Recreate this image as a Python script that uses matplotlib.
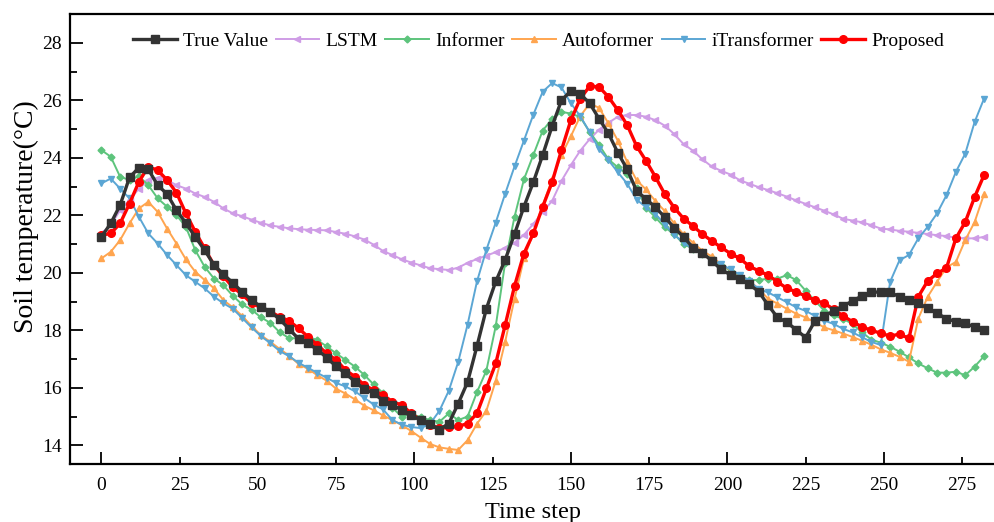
import numpy as np
import matplotlib.pyplot as plt
from matplotlib.ticker import MultipleLocator

plt.rcParams["font.family"] = ["Liberation Serif", "DejaVu Serif"]

# time steps (one marker every 3 steps)
steps = np.arange(0, 283, 3)

true_value = [
    21.25, 21.72, 22.36, 23.32, 23.66, 23.60, 23.05, 22.74, 22.18, 21.73,
    21.25, 20.79, 20.27, 19.95, 19.65, 19.34, 19.05, 18.82, 18.65, 18.38,
    18.05, 17.70, 17.55, 17.33, 17.05, 16.75, 16.50, 16.22, 15.95, 15.82,
    15.55, 15.40, 15.23, 15.05, 14.87, 14.74, 14.55, 14.76, 15.45, 16.20,
    17.45, 18.75, 19.70, 20.45, 21.35, 22.30, 23.15, 24.10, 25.10, 26.00,
    26.33, 26.22, 25.90, 25.36, 24.85, 24.18, 23.60, 22.85, 22.57, 22.28,
    21.94, 21.57, 21.25, 20.88, 20.70, 20.42, 20.12, 19.93, 19.77, 19.60,
    19.35, 18.88, 18.45, 18.28, 18.02, 17.75, 18.33, 18.50, 18.68, 18.85,
    19.02, 19.20, 19.32, 19.34, 19.32, 19.17, 19.05, 18.94, 18.77, 18.59,
    18.41, 18.30, 18.24, 18.12, 18.00,
]

lstm = [
    21.37, 21.66, 22.18, 22.53, 22.93, 23.23, 23.31, 23.23, 23.05, 22.93,
    22.76, 22.64, 22.47, 22.24, 22.07, 21.97, 21.85, 21.74, 21.65, 21.60,
    21.55, 21.52, 21.50, 21.49, 21.48, 21.42, 21.36, 21.27, 21.16, 20.98,
    20.76, 20.62, 20.47, 20.36, 20.26, 20.16, 20.13, 20.10, 20.18, 20.35,
    20.48, 20.60, 20.72, 20.88, 21.05, 21.32, 21.70, 22.12, 22.50, 23.20,
    23.75, 24.25, 24.65, 24.98, 25.22, 25.43, 25.49, 25.49, 25.43, 25.31,
    25.12, 24.83, 24.48, 24.25, 23.95, 23.70, 23.55, 23.42, 23.22, 23.10,
    22.98, 22.88, 22.77, 22.65, 22.52, 22.40, 22.28, 22.16, 22.03, 21.88,
    21.82, 21.76, 21.66, 21.54, 21.51, 21.46, 21.43, 21.39, 21.35, 21.31,
    21.28, 21.22, 21.20, 21.20, 21.25,
]

informer = [
    24.27, 24.04, 23.34, 23.23, 23.36, 23.05, 22.59, 22.30, 22.01, 21.60,
    20.79, 20.21, 19.80, 19.57, 19.20, 18.90, 18.72, 18.45, 18.26, 17.93,
    17.73, 17.72, 17.78, 17.66, 17.44, 17.20, 16.97, 16.74, 16.45, 16.12,
    15.82, 15.30, 15.00, 15.10, 14.98, 14.88, 14.82, 15.11, 14.88, 15.00,
    15.85, 16.60, 18.15, 20.35, 21.95, 23.25, 24.10, 24.95, 25.35, 25.60,
    25.54, 25.42, 24.90, 24.45, 23.95, 23.67, 23.43, 22.95, 22.27, 21.93,
    21.58, 21.35, 21.00, 20.84, 20.66, 20.50, 20.28, 20.07, 19.90, 19.75,
    19.75, 19.80, 19.80, 19.92, 19.75, 19.38, 19.03, 18.68, 18.52, 18.40,
    18.22, 17.93, 17.68, 17.57, 17.43, 17.26, 17.06, 16.85, 16.68, 16.53,
    16.53, 16.56, 16.44, 16.74, 17.10,
]

autoformer = [
    20.50, 20.73, 21.14, 21.72, 22.24, 22.47, 22.12, 21.54, 21.02, 20.47,
    20.04, 19.75, 19.46, 19.05, 18.80, 18.50, 18.15, 17.83, 17.60, 17.35,
    17.12, 16.83, 16.66, 16.44, 16.25, 15.97, 15.80, 15.60, 15.38, 15.22,
    15.04, 14.88, 14.70, 14.50, 14.27, 14.05, 13.93, 13.88, 13.84, 14.18,
    14.75, 15.20, 16.25, 17.60, 19.10, 20.50, 21.40, 22.35, 23.25, 24.10,
    24.75, 25.45, 25.89, 25.74, 25.20, 24.60, 23.85, 23.22, 22.90, 22.50,
    22.15, 21.72, 21.34, 21.05, 20.77, 20.57, 20.30, 20.10, 19.92, 19.72,
    19.45, 19.10, 18.93, 18.75, 18.58, 18.45, 18.28, 18.10, 18.00, 17.89,
    17.77, 17.64, 17.50, 17.34, 17.22, 17.08, 16.91, 18.41, 19.17, 19.69,
    20.19, 20.38, 21.14, 21.77, 22.74,
]

itransformer = [
    23.11, 23.28, 22.93, 22.59, 21.95, 21.37, 21.02, 20.62, 20.27, 19.92,
    19.69, 19.46, 19.17, 18.94, 18.75, 18.43, 18.10, 17.80, 17.55, 17.28,
    17.10, 16.87, 16.70, 16.52, 16.35, 16.17, 16.05, 15.88, 15.65, 15.42,
    15.25, 14.88, 14.72, 14.64, 14.60, 14.75, 15.20, 15.90, 16.90, 18.20,
    19.70, 20.80, 21.75, 22.75, 23.70, 24.60, 25.50, 26.30, 26.60, 26.45,
    25.90, 25.45, 24.90, 24.30, 23.92, 23.50, 23.10, 22.55, 22.28, 22.05,
    21.68, 21.33, 21.05, 20.83, 20.65, 20.45, 20.30, 20.12, 19.93, 19.72,
    19.43, 19.32, 19.15, 18.98, 18.80, 18.68, 18.50, 18.34, 18.22, 18.05,
    17.93, 17.76, 17.60, 17.49, 19.69, 20.44, 20.62, 21.20, 21.60, 22.07,
    22.70, 23.51, 24.15, 25.25, 26.06,
]

proposed = [
    21.31, 21.37, 21.72, 22.41, 23.17, 23.69, 23.57, 23.23, 22.79, 22.07,
    21.43, 20.85, 20.27, 19.88, 19.50, 19.25, 18.94, 18.80, 18.65, 18.47,
    18.33, 18.07, 17.78, 17.49, 17.20, 16.97, 16.62, 16.39, 16.10, 15.92,
    15.75, 15.52, 15.40, 15.11, 14.88, 14.71, 14.59, 14.63, 14.66, 14.76,
    15.11, 15.98, 16.85, 18.18, 19.54, 20.67, 21.37, 22.30, 23.15, 24.27,
    25.31, 26.06, 26.49, 26.47, 26.12, 25.66, 25.14, 24.41, 23.90, 23.34,
    22.74, 22.27, 21.89, 21.63, 21.35, 21.11, 20.89, 20.67, 20.50, 20.23,
    20.07, 19.92, 19.69, 19.46, 19.34, 19.19, 19.05, 18.94, 18.73, 18.50,
    18.30, 18.12, 18.00, 17.90, 17.80, 17.87, 17.72, 19.17, 19.72, 19.98,
    20.17, 21.20, 21.77, 22.64, 23.40,
]

fig = plt.figure(figsize=(9.95, 5.22), dpi=100)
ax = fig.add_axes([0.0704, 0.111, 0.9296, 0.862])

# baselines first, true value and proposed on top
ax.plot(steps, lstm, color="#CF9DE6", lw=1.4, marker="<", ms=4.5, label="LSTM", zorder=2)
ax.plot(steps, informer, color="#5DC47C", lw=1.4, marker="D", ms=3.5, label="Informer", zorder=2)
ax.plot(steps, autoformer, color="#FFA54F", lw=1.4, marker="^", ms=4.5, label="Autoformer", zorder=2)
ax.plot(steps, itransformer, color="#5BA6D4", lw=1.4, marker="v", ms=4.5, label="iTransformer", zorder=2)
ax.plot(steps, true_value, color="#333333", lw=2.4, marker="s", ms=6, label="True Value", zorder=4)
ax.plot(steps, proposed, color="#FF0000", lw=2.4, marker="o", ms=5.5, label="Proposed", zorder=3)

ax.set_xlim(-10, 285.5)
ax.set_ylim(13.35, 29.0)

ax.set_xticks(np.arange(0, 251, 50))
ax.set_xticks(np.arange(25, 276, 50), minor=True)
ax.set_xticklabels([str(v) for v in range(25, 276, 50)], minor=True)
ax.yaxis.set_minor_locator(MultipleLocator(1))
ax.set_yticks(np.arange(14, 29, 2))
ax.tick_params(which="both", direction="in", labelsize=14, width=1.3)
ax.tick_params(axis="y", which="both", pad=6)
ax.tick_params(axis="x", which="both", pad=9)
ax.tick_params(which="major", length=9)
ax.tick_params(which="minor", length=5)

for side in ("left", "bottom", "top"):
    ax.spines[side].set_linewidth(1.6)
ax.spines["right"].set_visible(False)

ax.set_xlabel("Time step", fontsize=17.5, labelpad=6)
ax.set_ylabel("Soil temperature(\u00b0C)", fontsize=20)
ax.yaxis.set_label_coords(-0.034, 0.55)

handles, labels = ax.get_legend_handles_labels()
order = [4, 0, 1, 2, 3, 5]
ax.legend([handles[i] for i in order], [labels[i] for i in order],
          loc="center", bbox_to_anchor=(0.5065, 0.94), ncol=6, frameon=False,
          fontsize=14, handlelength=2.25, columnspacing=0.4, handletextpad=0.3)

fig.savefig("out.png", dpi=100)
